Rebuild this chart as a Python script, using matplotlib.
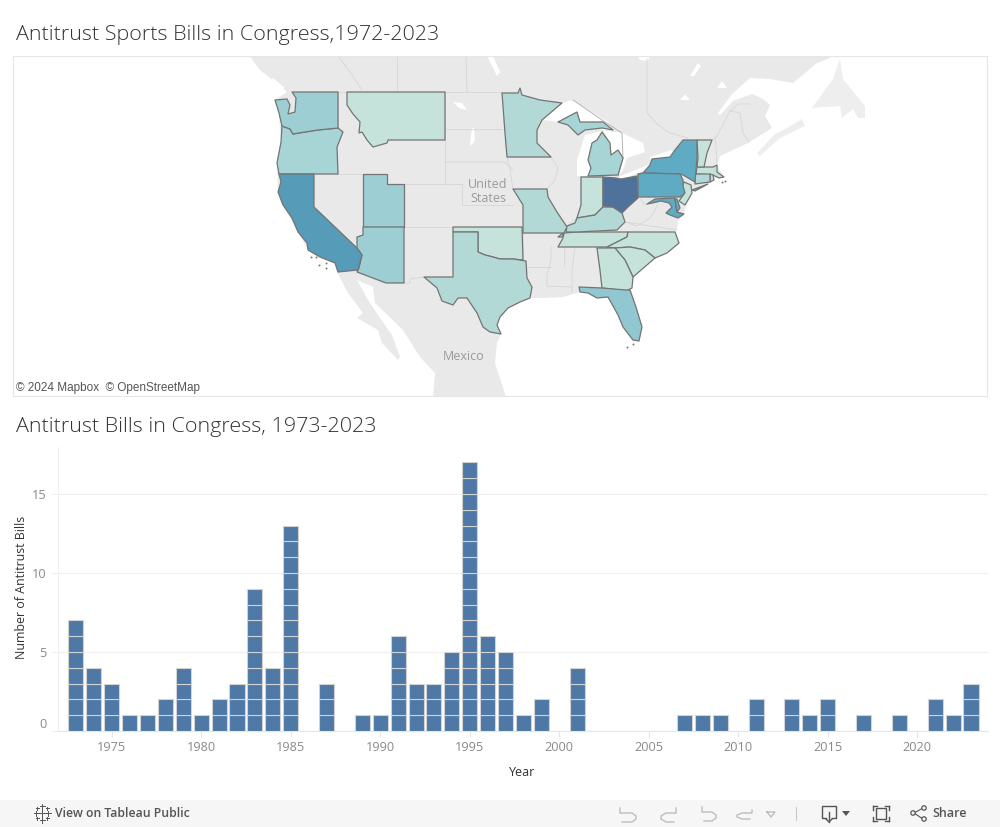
import numpy as np
import matplotlib
matplotlib.use("Agg")
import matplotlib.pyplot as plt
from matplotlib.colors import LinearSegmentedColormap, Normalize
from matplotlib.patches import Polygon, Rectangle, Circle

# ---------- bar data ----------
years = list(range(1973, 2024))
bills = [7, 4, 3, 1, 1, 2, 4, 1, 2, 3, 9, 4, 13, 0, 3, 0, 1, 1, 6, 3, 3, 5, 17, 6, 5, 1, 2, 0, 4,
         0, 0, 0, 0, 0, 1, 1, 1, 0, 2, 0, 2, 1, 2, 0, 1, 0, 1, 0, 2, 1, 3]
year_ticks = [1975, 1980, 1985, 1990, 1995, 2000, 2005, 2010, 2015, 2020]
bill_ticks = [0, 5, 10, 15]

# ---------- state shading values ----------
state_counts = {"MT": 1, "OK": 1, "NC": 1, "SC": 1, "GA": 1, "TN": 1, "IN": 1, "VT": 1, "MA": 1, "NJ": 1, "RI": 1,
                "TX": 2, "MN": 2, "MO": 2, "KY": 2, "CT": 2, "MI": 3, "OR": 3, "WA": 4, "UT": 4, "AZ": 4,
                "FL": 5, "NY": 9, "PA": 9, "MD": 9, "DE": 9, "CA": 11, "OH": 14}
scale_stops = [(1, "#c5e3da"), (2, "#b1d9d5"), (4, "#9dced3"), (9, "#60abc4"), (11, "#569bb8"), (14, "#4e729c")]

# ---------- map outlines (map units of the basemap) ----------
states = {
 "WA": [(292,92),(338,92),(338,128),(318,130),(305,132),(293,134),(290,129),(282,126),(279,113),(275,100),(287,99),(290,105),(288,114),(295,112),(296,98)],
 "OR": [(282,126),(290,129),(293,134),(305,132),(318,130),(338,128),(343,132),(337,147),(338,174),(279,174),(277,163),(281,142)],
 "CA": [(279,174),(314,174),(314,207),(357,248),(362,255),(358,270),(338,272),(335,263),(320,257),(308,250),(307,243),(298,232),(292,218),(283,205),(278,192),(281,182)],
 "UT": [(363,174),(387,174),(387,184),(404,184),(404,227),(363,227)],
 "AZ": [(363,227),(404,227),(404,283),(386,283),(357,272),(359,268),(362,255),(357,248),(357,237),(363,235)],
 "MT": [(347,92),(445,92),(445,140),(388,140),(387,143),(373,147),(367,140),(362,132),(359,133),(360,122),(353,114),(347,105)],
 "TX": [(453,232),(478,232),(478,252),(485,255),(493,257),(500,259),(513,259),(526,261),(527,278),(532,287),(530,298),(520,302),(508,308),(500,317),(497,325),(501,334),(490,332),(483,327),(477,313),(467,298),(458,298),(453,305),(442,301),(437,288),(424,277),(453,277)],
 "OK": [(453,227),(522,227),(523,260),(513,259),(500,259),(493,257),(485,255),(478,252),(478,232),(453,232)],
 "MO": [(513,189),(547,189),(548,197),(557,212),(567,227),(564,233),(562,237),(558,237),(563,233),(523,233),(523,205)],
 "MN": [(502,93),(518,93),(520,88),(522,95),(540,100),(562,103),(542,120),(537,130),(537,143),(551,157),(507,157),(505,133)],
 "MI": [(588,176),(618,175),(623,158),(618,150),(611,155),(610,143),(602,132),(597,140),(592,143),(588,160),(591,168)],
 "IN": [(581,177),(603,177),(603,207),(595,215),(577,218),(581,205)],
 "OH": [(603,177),(616,178),(621,179),(637,176),(638,198),(627,208),(622,213),(613,207),(603,206)],
 "KY": [(566,232),(567,226),(575,223),(577,218),(595,215),(603,207),(613,207),(622,213),(625,222),(617,230),(577,232)],
 "TN": [(564,233),(577,232),(628,232),(627,237),(607,247),(558,247),(563,238)],
 "NC": [(628,232),(675,232),(679,243),(667,253),(655,258),(645,250),(630,247),(615,248),(607,247),(627,237)],
 "SC": [(615,248),(630,247),(645,250),(655,258),(633,277),(625,260)],
 "GA": [(597,248),(615,248),(625,260),(633,277),(632,288),(626,291),(602,288),(600,270)],
 "FL": [(579,287),(602,288),(626,290),(630,290),(636,307),(642,327),(639,341),(633,340),(623,327),(618,315),(608,297),(597,298),(588,293),(580,292)],
 "NY": [(683,140),(697,140),(697,158),(695,182),(683,175),(680,174),(643,173),(650,165),(652,159),(670,157),(675,150)],
 "PA": [(638,174),(643,173),(680,174),(683,180),(683,186),(685,193),(680,197),(638,197)],
 "MD": [(647,204),(655,199),(675,198),(677,212),(684,214),(678,218),(670,215),(666,213),(672,207),(669,203),(661,201),(652,203)],
 "DE": [(675,199),(677,199),(680,208),(677,212)],
 "NJ": [(684,182),(691,185),(692,193),(688,200),(685,205),(679,201),(684,194),(682,187)],
 "CT": [(695,174),(710,174),(710,182),(695,184)],
 "MA": [(697,167),(713,167),(717,165),(717,172),(724,177),(719,178),(713,175),(696,174)],
 "RI": [(710,174),(713,175),(714,180),(710,182)],
 "VT": [(697,140),(712,140),(707,153),(704,167),(697,167),(698,158)],
}
state_extras = {
 "MI": [[(558,122),(577,112),(580,122),(603,122),(613,130),(602,128),(585,130),(578,135),(568,125)]],
 "NY": [[(692,190),(708,184),(695,191)]],
}

land = [(245,50),(835,50),(830,58),(817,63),(793,83),(770,79),(750,78),(732,94),(718,113),(720,115),(733,101),(752,94),(763,99),(770,105),(765,116),(772,128),(748,143),(720,156),(718,163),(717,165),(724,177),(719,178),(713,177),(708,184),(692,190),(692,193),(688,200),(684,214),(678,220),(677,230),(675,232),(679,243),(667,253),(655,258),(633,277),(630,290),(636,307),(642,327),(639,341),(633,340),(623,327),(618,315),(608,297),(597,298),(588,293),(580,292),(563,297),(543,298),(530,298),(520,302),(508,308),(500,317),(497,325),(501,334),(497,343),(495,363),(507,400),(433,400),(435,373),(420,357),(403,330),(375,303),(373,287),(357,280),(368,300),(380,318),(392,335),(400,357),(398,360),(382,343),(378,330),(357,318),(363,313),(348,293),(337,272),(335,263),(320,257),(308,250),(298,232),(283,205),(278,192),(277,163),(281,142),(279,113),(275,100),(287,92),(275,82),(260,70)]
extra_land = [
 [(757,153),(760,156),(780,138),(805,126),(802,119),(787,128),(775,134)],
 [(812,108),(833,79),(840,59),(843,79),(865,106),(865,118),(858,118),(853,109),(842,118),(840,106)],
]
water = [
 [(543,120),(562,103),(573,100),(608,122),(613,130),(603,130),(580,122),(577,112),(558,122),(552,121)],
 [(577,176),(577,160),(585,135),(602,131),(597,140),(592,143),(588,160),(591,176)],
 [(603,130),(622,133),(643,143),(645,152),(627,158),(623,170),(618,176),(623,158),(618,150),(611,155),(610,143)],
 [(618,177),(648,165),(652,167),(638,173),(621,180)],
 [(650,157),(672,150),(674,156),(652,165)],
 [(637,56),(650,56),(648,61),(640,60)],
 [(690,76),(698,63),(701,66),(694,76)],
 [(680,100),(685,94),(690,100)],
 [(717,88),(722,81),(727,88)],
 [(487,56),(493,56),(500,72),(497,76)],
 [(453,102),(462,103),(467,110),(459,108)],
 [(472,128),(474,128),(475,140),(471,146),(470,144)],
 [(273,78),(285,88),(282,90),(270,82)],
]
grey_borders = [
 [(338,174),(363,174)],[(445,92),(445,184)],[(445,129),(502,129)],[(445,162),(505,162),(513,170)],
 [(387,184),(445,184),(462,184),(462,205),(513,205)],[(404,227),(453,227)],[(445,184),(462,184)],
 [(453,232),(453,277)],[(404,283),(410,283),(410,279),(424,277)],[(505,133),(507,157),(510,170),(513,189)],
 [(507,157),(551,157),(558,168),(555,180),(547,189)],[(581,177),(581,205),(577,218),(567,226)],
 [(523,233),(523,260)],[(526,267),(551,267)],[(575,247),(572,270),(572,292)],[(597,248),(602,288)],
 [(551,247),(551,260),(547,275),(547,286),(572,287)],[(564,247),(564,266)],
 [(640,198),(645,205),(658,202),(668,196)],[(625,222),(637,226),(650,218),(658,205)],[(625,222),(677,230)],
 [(338,128),(338,92)],[(363,174),(363,235)],[(338,56),(350,72),(362,90)],[(397,56),(397,92)],[(466,56),(467,92)],
 [(647,59),(647,113),(657,124),(670,133),(688,138),(688,140)],[(715,136),(717,163)],
 [(717,136),(730,111),(740,113),(743,133),(749,142)],[(730,111),(738,104),(750,104)],
 [(338,92),(502,92)],[(712,140),(717,136)],
]
michigan_water_line = [(573,100),(605,122),(622,133),(623,158),(618,176)]
island_points = [(311,257),(316,257),(319,265),(326,263),(326,268),(722,182),(725,181),(633,344),(627,347)]
place_labels = [("United", 488, 184), ("States", 488, 198), ("Mexico", 464, 357)]

plt.rcParams["font.family"] = ["Open Sans", "DejaVu Sans"]
W, H = 1000, 827
fig = plt.figure(figsize=(W / 100, H / 100), dpi=100, facecolor="white")

def axes_px(x0, y0, x1, y1, **kw):
    return fig.add_axes([x0 / W, 1 - y1 / H, (x1 - x0) / W, (y1 - y0) / H], **kw)

# ---------- titles ----------
fig.text(16 / W, 1 - 35 / H, "Antitrust Sports Bills in Congress,1972-2023", fontsize=15.45, fontweight="light",
         color="#333333", va="center", ha="left")
fig.text(16 / W, 1 - 427 / H, "Antitrust Bills in Congress, 1973-2023", fontsize=15.45, fontweight="light",
         color="#333333", va="center", ha="left")

# ---------- map ----------
ax = axes_px(12.5, 55.5, 987.5, 395.5)
ax.set_xlim(12.5, 987.5)
ax.set_ylim(395.5, 55.5)
ax.set_xticks([])
ax.set_yticks([])
for s in ax.spines.values():
    s.set_color("#e6e6e6")
    s.set_linewidth(0.8)
    s.set_zorder(20)
LAND = "#e9e9e9"
ax.add_patch(Polygon(land, closed=True, fc=LAND, ec="none", zorder=1))
for p in extra_land:
    ax.add_patch(Polygon(p, closed=True, fc="#eeeeee", ec="none", zorder=1))
for p in water:
    ax.add_patch(Polygon(p, closed=True, fc="white", ec="none", zorder=2))
for b in grey_borders:
    xs, ys = zip(*b)
    ax.plot(xs, ys, color="#d6d6d6", lw=0.6, zorder=3)
xs, ys = zip(*michigan_water_line)
ax.plot(xs, ys, color="#b5b5b5", lw=0.7, zorder=3)

cmap = LinearSegmentedColormap.from_list(
    "bills", [((v - 1) / 13, c) for v, c in scale_stops])
norm = Normalize(1, 14)
for name in sorted(states, key=lambda k: state_counts[k]):
    col = cmap(norm(state_counts[name]))
    for poly in [states[name]] + state_extras.get(name, []):
        ax.add_patch(Polygon(poly, closed=True, fc=col, ec="#747474", lw=0.9, joinstyle="round", zorder=5))
xs, ys = zip(*island_points)
ax.scatter(xs, ys, s=2, color="#777777", lw=0, zorder=5)
for t, x, y in place_labels:
    ax.text(x, y, t, fontsize=9, color="#9a9a9a", ha="center", va="center", zorder=6)
ax.add_patch(Rectangle((14, 380), 190, 15, fc="white", alpha=0.75, ec="none", zorder=7))
ax.text(16, 387.5, "\u00a9 2024 Mapbox  \u00a9 OpenStreetMap", fontsize=8.45, color="#555555", va="center", ha="left",
        family=["Liberation Sans", "DejaVu Sans"], zorder=8)

# ---------- bars ----------
bx = axes_px(58, 447, 988, 731)
bx.set_xlim(1972.0, 2023.95)
bx.set_ylim(0, 284 / 15.8)
for yr, n in zip(years, bills):
    for k in range(n):
        bx.bar(yr, 1, bottom=k, width=0.84, color="#4e79a7", edgecolor="#d2d2d2", linewidth=0.8, zorder=3)
bx.set_xticks(year_ticks)
bx.set_yticks(bill_ticks)
bx.set_xticklabels([str(y) for y in year_ticks])
bx.set_yticklabels([str(b) for b in bill_ticks])
bx.tick_params(axis="x", length=4, width=0.8, color="#e6e6e6", labelcolor="#8a8a8a", labelsize=9.2, pad=3)
bx.tick_params(axis="y", length=5, width=0.8, color="#f0f0f0", labelcolor="#8a8a8a", labelsize=9.2, pad=3)
bx.get_yticklabels()[0].set_verticalalignment("bottom")
bx.grid(axis="y", color="#f0f0f0", lw=0.9, zorder=0)
for side in ("top", "right"):
    bx.spines[side].set_visible(False)
bx.spines["left"].set_color("#f0f0f0")
bx.spines["bottom"].set_color("#e6e6e6")
fig.text(522.5 / W, 1 - 773 / H, "Year", fontsize=9, color="#333333", ha="center", va="center")
fig.text(22 / W, 1 - 587.5 / H, "Number of Antitrust Bills", fontsize=8.9, color="#333333", rotation=90,
         ha="center", va="center")

# ---------- footer ----------
fx = axes_px(0, 800, 1000, 827)
fx.set_xlim(0, 1000)
fx.set_ylim(827, 800)
fx.axis("off")
fx.add_patch(Rectangle((0, 800), 1000, 27, fc="#f6f6f6", ec="none"))
fx.text(55, 813.5, "View on Tableau Public", fontsize=8.8, color="#555555", va="center", ha="left", fontweight="semibold")
fx.text(932, 813.5, "Share", fontsize=9, color="#555555", va="center", ha="left", fontweight="semibold")
grey = "#555555"; pale = "#bdbdbd"
for dx, dy, r in [(0, 0, 5), (-6, 0, 2.5), (6, 0, 2.5), (0, -7, 2.5), (0, 7, 2.5), (-5, -5, 1.5), (5, -5, 1.5), (-5, 5, 1.5), (5, 5, 1.5)]:
    fx.plot([42 + dx - r, 42 + dx + r], [813 + dy, 813 + dy], color=grey, lw=0.7)
    fx.plot([42 + dx, 42 + dx], [813 + dy - r, 813 + dy + r], color=grey, lw=0.7)
fx.plot([620, 620, 632, 636, 636, 632, 622], [808, 813, 813, 816, 819, 822, 822], color=pale, lw=1)
fx.plot([676, 676, 666, 661, 661, 666, 674], [808, 813, 813, 816, 819, 822, 822], color=pale, lw=1)
fx.plot([702, 702, 712, 716, 716, 712, 704], [807, 812, 812, 815, 818, 821, 821], color=pale, lw=1)
fx.plot([752, 752, 742, 737, 737, 742, 750], [810, 813, 813, 815, 817, 819, 819], color=pale, lw=1)
fx.plot([767, 775, 771, 767], [812, 812, 817, 812], color=pale, lw=1)
fx.plot([795.5, 795.5], [807, 820], color="#cccccc", lw=0.8)
fx.plot([826, 822, 822, 836, 836, 832], [818, 818, 806, 806, 818, 818], color=grey, lw=1)
fx.plot([829, 829], [812, 822], color=grey, lw=1)
fx.plot([826, 829, 832], [819, 822, 819], color=grey, lw=1)
fx.fill([842, 850, 846], [811, 811, 816], color=grey, lw=0)
fx.add_patch(Rectangle((876, 808), 10, 11, fc="none", ec=grey, lw=1))
for x0, x1, y0, y1 in [(873, 873, 806, 810), (873, 877, 806, 806), (885, 889, 806, 806), (889, 889, 806, 810),
                       (873, 873, 817, 821), (873, 877, 821, 821), (885, 889, 821, 821), (889, 889, 817, 821)]:
    fx.plot([x0, x1], [y0, y1], color=grey, lw=1)
fx.plot([923, 914, 923], [808, 813, 819], color=grey, lw=0.8)
for cx, cy in [(924, 808), (913, 813), (924, 819)]:
    fx.add_patch(Circle((cx, cy), 2.2, fc="#f6f6f6", ec=grey, lw=0.9, zorder=4))

fig.savefig("out.png", dpi=100)
